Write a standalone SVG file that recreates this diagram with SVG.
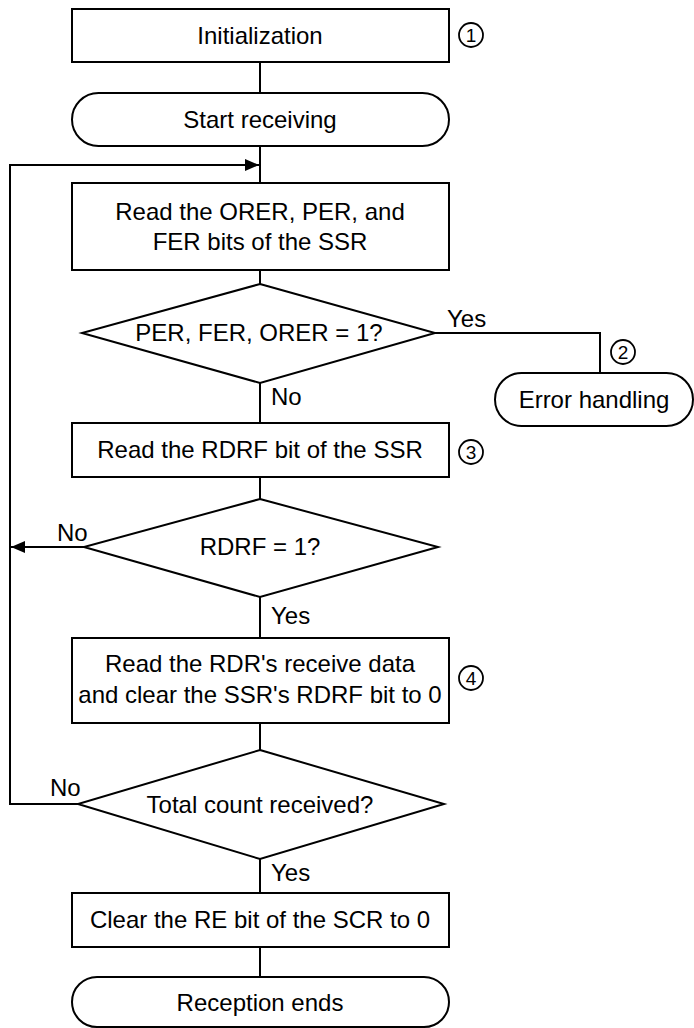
<svg xmlns="http://www.w3.org/2000/svg" width="694" height="1028" viewBox="0 0 694 1028">
<style>
.box{fill:#fff;stroke:#000;stroke-width:2}
.ln{fill:none;stroke:#000;stroke-width:2}
.t{font-family:"Liberation Sans",Arial,sans-serif;font-size:24px;fill:#000;text-anchor:middle}
.l{font-family:"Liberation Sans",Arial,sans-serif;font-size:24px;fill:#000}
.c{fill:none;stroke:#000;stroke-width:1.8}
.n{font-family:"Liberation Sans",Arial,sans-serif;font-size:19px;fill:#000;text-anchor:middle}
</style>
<defs>
<marker id="ah" markerWidth="14" markerHeight="12" refX="14" refY="6" orient="auto" markerUnits="userSpaceOnUse">
<path d="M0,0 L14,6 L0,12 Z" fill="#000"/>
</marker>
</defs>
<g id="connectors">
<line class="ln" x1="260" y1="62" x2="260" y2="93"/>
<line class="ln" x1="260" y1="146" x2="260" y2="183"/>
<polyline class="ln" points="78,804 10,804 10,165 259,165" marker-end="url(#ah)"/>
<line class="ln" x1="260" y1="270" x2="260" y2="284"/>
<polyline class="ln" points="435,333 600,333 600,373"/>
<line class="ln" x1="260" y1="383" x2="260" y2="423"/>
<line class="ln" x1="260" y1="477" x2="260" y2="499"/>
<line class="ln" x1="84" y1="547" x2="11" y2="547" marker-end="url(#ah)"/>
<line class="ln" x1="260" y1="597" x2="260" y2="638"/>
<line class="ln" x1="260" y1="723" x2="260" y2="750"/>
<line class="ln" x1="260" y1="859" x2="260" y2="893"/>
<line class="ln" x1="260" y1="947" x2="260" y2="977"/>
<text class="l" x="447" y="327">Yes</text>
<text class="l" x="271" y="405">No</text>
<text class="l" x="57" y="541">No</text>
<text class="l" x="271" y="624">Yes</text>
<text class="l" x="50" y="796">No</text>
<text class="l" x="271" y="881">Yes</text>
</g>
<g id="init">
<rect class="box" x="72" y="9" width="377" height="53"/>
<text class="t" x="260" y="44">Initialization</text>
<circle class="c" cx="471" cy="35" r="12"/>
<text class="n" x="471" y="42">1</text>
</g>
<g id="start">
<rect class="box" x="72" y="93" width="377" height="53" rx="26.5"/>
<text class="t" x="260" y="128">Start receiving</text>
</g>
<g id="read-errors">
<rect class="box" x="72" y="183" width="377" height="87"/>
<text class="t" x="260" y="220">Read the ORER, PER, and</text>
<text class="t" x="260" y="250">FER bits of the SSR</text>
</g>
<g id="dec-errors">
<polygon class="box" points="260,284 435,333 260,383 82,333"/>
<text class="t" x="259" y="341">PER, FER, ORER = 1?</text>
</g>
<g id="error">
<rect class="box" x="495" y="373" width="198" height="53" rx="26.5"/>
<text class="t" x="594" y="408">Error handling</text>
<circle class="c" cx="623" cy="352" r="12"/>
<text class="n" x="623" y="359">2</text>
</g>
<g id="read-rdrf">
<rect class="box" x="72" y="423" width="377" height="54"/>
<text class="t" x="260" y="458">Read the RDRF bit of the SSR</text>
<circle class="c" cx="471" cy="452" r="12"/>
<text class="n" x="471" y="459">3</text>
</g>
<g id="dec-rdrf">
<polygon class="box" points="260,499 438,547 260,597 84,547"/>
<text class="t" x="260" y="555">RDRF = 1?</text>
</g>
<g id="read-rdr">
<rect class="box" x="72" y="638" width="377" height="85"/>
<text class="t" x="260" y="672">Read the RDR's receive data</text>
<text class="t" x="260" y="703">and clear the SSR's RDRF bit to 0</text>
<circle class="c" cx="471" cy="678" r="12"/>
<text class="n" x="471" y="685">4</text>
</g>
<g id="dec-count">
<polygon class="box" points="260,750 444,804 260,859 78,804"/>
<text class="t" x="260" y="813">Total count received?</text>
</g>
<g id="clear-re">
<rect class="box" x="72" y="893" width="377" height="54"/>
<text class="t" x="260" y="928">Clear the RE bit of the SCR to 0</text>
</g>
<g id="end">
<rect class="box" x="72" y="977" width="377" height="50" rx="25"/>
<text class="t" x="260" y="1011">Reception ends</text>
</g>
</svg>
